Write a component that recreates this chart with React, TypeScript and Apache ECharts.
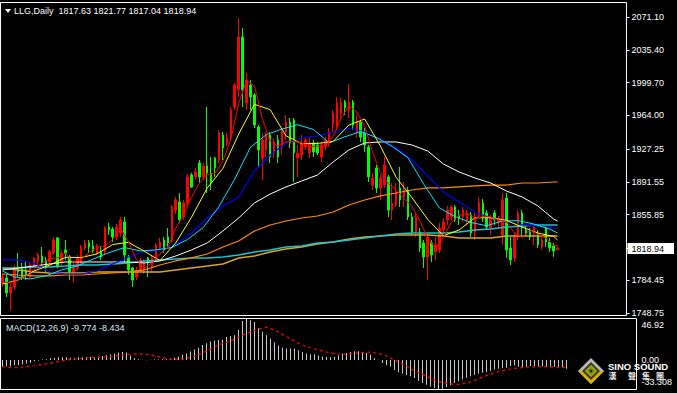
import React, { useEffect, useRef } from 'react';
import * as echarts from 'echarts';

// ---------- data ----------
const categories = Array.from({ length: 159 }, (_, i) => String(i + 1));

const opens = [
  1781.4, 1786.9, 1770.6, 1777.1, 1798.9, 1798.9, 1795.6, 1788.0, 1801.0, 1804.3,
  1810.9, 1806.5, 1804.3, 1814.1, 1830.4, 1804.3, 1817.4, 1809.8, 1792.3, 1797.8,
  1803.2, 1819.5, 1825.0, 1821.7, 1814.1, 1815.2, 1815.2, 1842.4, 1840.2, 1831.5,
  1835.9, 1847.9, 1809.8, 1797.8, 1788.0, 1795.6, 1795.6, 1808.7, 1798.9, 1808.7,
  1819.5, 1828.2, 1831.5, 1828.2, 1860.9, 1869.6, 1853.3, 1868.5, 1899.1, 1896.9,
  1912.1, 1896.9, 1908.8, 1901.2, 1917.6, 1915.4, 1942.6, 1933.9, 1940.4, 1973.1,
  1991.6, 2049.3, 1977.4, 1997.0, 1986.1, 1951.3, 1917.6, 1926.3, 1942.6, 1923.0,
  1937.2, 1929.6, 1945.9, 1956.7, 1958.9, 1917.6, 1920.8, 1929.6, 1923.0, 1933.9,
  1931.7, 1918.6, 1929.6, 1933.9, 1953.5, 1951.3, 1966.5, 1978.5, 1969.8, 1978.5,
  1945.9, 1956.7, 1945.9, 1929.6, 1888.1, 1906.7, 1884.9, 1888.1, 1896.9, 1860.9,
  1866.4, 1884.9, 1875.1, 1882.7, 1853.3, 1836.9, 1836.9, 1825.0, 1809.8, 1825.0,
  1815.2, 1817.4, 1839.1, 1850.0, 1853.3, 1864.2, 1855.5, 1853.3, 1850.0, 1855.5,
  1836.9, 1855.5, 1868.5, 1857.7, 1841.3, 1857.7, 1846.8, 1833.7, 1874.0, 1819.5,
  1808.7, 1831.5, 1857.7, 1839.1, 1836.9, 1835.9, 1833.7, 1820.6, 1841.3, 1826.1,
  1821.7, 1817.63,
];
const closes = [
  1788.0, 1770.6, 1777.1, 1797.8, 1793.4, 1788.0, 1790.2, 1801.0, 1808.7, 1811.9,
  1803.2, 1798.9, 1815.2, 1828.2, 1798.9, 1814.1, 1814.1, 1793.4, 1798.9, 1808.7,
  1820.6, 1825.0, 1820.6, 1816.3, 1820.6, 1809.8, 1841.3, 1839.1, 1831.5, 1842.4,
  1850.0, 1811.9, 1795.6, 1784.7, 1795.6, 1806.5, 1804.3, 1803.2, 1808.7, 1822.8,
  1826.1, 1817.4, 1825.0, 1864.2, 1871.8, 1850.0, 1868.5, 1896.9, 1886.0, 1902.3,
  1896.9, 1908.8, 1901.2, 1890.3, 1906.7, 1944.8, 1928.5, 1939.4, 1969.8, 1997.0,
  2049.3, 1991.6, 2002.5, 1984.0, 1953.5, 1926.3, 1937.2, 1942.6, 1918.6, 1935.0,
  1918.6, 1945.9, 1956.7, 1933.9, 1923.0, 1923.0, 1933.9, 1937.2, 1933.9, 1924.1,
  1923.0, 1931.7, 1937.2, 1945.9, 1966.5, 1977.4, 1977.4, 1972.0, 1978.5, 1953.5,
  1956.7, 1940.4, 1931.7, 1896.9, 1895.8, 1884.9, 1895.8, 1909.9, 1860.9, 1868.5,
  1880.5, 1871.8, 1882.7, 1853.3, 1836.9, 1853.3, 1819.5, 1809.8, 1831.5, 1811.9,
  1822.8, 1841.3, 1847.9, 1860.9, 1864.2, 1850.0, 1852.2, 1860.9, 1857.7, 1835.9,
  1853.3, 1868.5, 1852.2, 1842.4, 1852.2, 1850.0, 1852.2, 1871.8, 1817.4, 1806.5,
  1831.5, 1857.7, 1841.3, 1834.8, 1831.5, 1842.4, 1822.8, 1828.2, 1826.1, 1819.5,
  1816.3, 1818.94,
];
const lows = [
  1777.1, 1766.2, 1752.0, 1773.8, 1788.0, 1784.7, 1784.7, 1786.9, 1798.9, 1801.0,
  1801.0, 1792.3, 1802.1, 1811.9, 1797.8, 1801.0, 1806.5, 1784.7, 1781.4, 1795.6,
  1801.0, 1817.4, 1814.1, 1814.1, 1811.9, 1806.5, 1813.0, 1833.7, 1826.1, 1828.2,
  1831.5, 1804.3, 1790.2, 1777.1, 1784.7, 1793.4, 1791.2, 1788.0, 1792.3, 1806.5,
  1817.4, 1814.1, 1820.6, 1825.0, 1856.6, 1846.8, 1850.0, 1865.3, 1884.9, 1893.6,
  1890.3, 1893.6, 1879.4, 1882.7, 1896.9, 1912.1, 1915.4, 1930.6, 1937.2, 1969.8,
  1984.0, 1973.1, 1969.8, 1969.8, 1950.2, 1906.7, 1893.6, 1918.6, 1912.1, 1917.6,
  1912.1, 1920.8, 1937.2, 1928.5, 1891.4, 1896.9, 1915.4, 1926.3, 1917.6, 1918.6,
  1920.8, 1913.2, 1926.3, 1929.6, 1945.9, 1948.1, 1961.1, 1964.4, 1961.1, 1948.1,
  1939.4, 1935.0, 1924.1, 1891.4, 1882.7, 1879.4, 1871.8, 1884.9, 1853.3, 1850.0,
  1864.2, 1864.2, 1864.2, 1850.0, 1833.7, 1831.5, 1815.2, 1797.8, 1784.7, 1804.3,
  1806.5, 1814.1, 1835.9, 1844.6, 1850.0, 1847.9, 1844.6, 1847.9, 1844.6, 1831.5,
  1828.2, 1852.2, 1847.9, 1839.1, 1833.7, 1844.6, 1842.4, 1822.8, 1808.7, 1801.0,
  1804.3, 1828.2, 1833.7, 1832.6, 1828.2, 1822.8, 1819.5, 1817.4, 1820.6, 1815.2,
  1809.8, 1817.04,
];
const highs = [
  1792.3, 1790.2, 1780.4, 1801.0, 1814.1, 1803.2, 1804.3, 1804.3, 1809.8, 1814.1,
  1820.6, 1809.8, 1817.4, 1831.5, 1831.5, 1817.4, 1828.2, 1811.9, 1803.2, 1811.9,
  1822.8, 1828.2, 1828.2, 1828.2, 1823.9, 1820.6, 1843.5, 1846.8, 1842.4, 1845.7,
  1853.3, 1853.3, 1811.9, 1798.9, 1798.9, 1808.7, 1807.6, 1809.8, 1811.9, 1825.0,
  1830.4, 1831.5, 1841.3, 1866.4, 1875.1, 1879.4, 1871.8, 1900.1, 1901.2, 1906.7,
  1915.4, 1912.1, 1973.1, 1918.6, 1918.6, 1948.1, 1945.9, 1944.8, 1973.1, 1999.2,
  2070.0, 2059.1, 2010.1, 2002.5, 1988.3, 1953.5, 1944.8, 1945.9, 1945.9, 1939.4,
  1942.6, 1950.2, 1964.4, 1961.1, 1961.1, 1931.7, 1942.6, 1940.4, 1939.4, 1937.2,
  1935.0, 1935.0, 1940.4, 1950.2, 1969.8, 1984.0, 1982.9, 1980.7, 1998.1, 1980.7,
  1964.4, 1958.9, 1950.2, 1931.7, 1901.2, 1909.9, 1899.1, 1918.6, 1899.1, 1890.3,
  1890.3, 1907.8, 1891.4, 1886.0, 1857.7, 1857.7, 1841.3, 1828.2, 1834.8, 1828.2,
  1831.5, 1846.8, 1852.2, 1865.3, 1866.4, 1866.4, 1860.9, 1864.2, 1860.9, 1858.7,
  1857.7, 1875.1, 1872.9, 1860.9, 1855.5, 1860.9, 1854.4, 1879.4, 1879.4, 1831.5,
  1836.9, 1860.9, 1860.9, 1843.5, 1841.3, 1844.6, 1839.1, 1832.6, 1843.5, 1830.4,
  1825.0, 1821.77,
];

// moving-average lines at these candle indices
const maIdx = [0, 4, 8, 12, 16, 20, 24, 28, 32, 36, 40, 44, 48, 52, 56, 60, 64, 68, 72, 76,
  80, 84, 88, 92, 96, 100, 104, 108, 112, 116, 120, 124, 128, 132, 136, 140, 141];
const maYellow = [1780.3, 1784.7, 1794.5, 1800.8, 1809.4, 1809.1, 1813.2, 1823.3, 1825.7, 1816.0,
  1805.8, 1825.0, 1852.9, 1884.7, 1906.2, 1943.6, 1976.0, 1970.2, 1941.8, 1933.1,
  1933.4, 1935.6, 1953.4, 1960.0, 1930.6, 1896.5, 1874.5, 1850.8, 1832.8, 1839.2,
  1852.4, 1852.5, 1849.6, 1842.3, 1835.8, 1832.1, 1828.2];
const maBlue = [1806.5, 1806.5, 1803.2, 1793.4, 1791.2, 1791.2, 1794.5, 1802.1, 1809.7, 1815.2,
  1817.4, 1823.9, 1835.9, 1852.2, 1865.3, 1875.1, 1903.4, 1920.8, 1933.9, 1939.3,
  1941.5, 1945.9, 1950.2, 1945.9, 1937.2, 1928.4, 1915.4, 1898.0, 1880.5, 1869.6,
  1858.7, 1852.2, 1847.9, 1844.6, 1843.5, 1841.3, 1841.3];
const maWhite = [1795.6, 1797.8, 1799.9, 1802.1, 1804.3, 1804.3, 1804.3, 1804.3, 1804.3, 1803.2,
  1805.4, 1810.8, 1817.4, 1825.0, 1838.1, 1852.2, 1868.5, 1878.3, 1886.0, 1892.5,
  1899.0, 1913.2, 1926.3, 1933.9, 1935.0, 1935.0, 1931.7, 1925.2, 1911.0, 1902.3,
  1895.8, 1890.3, 1881.6, 1875.1, 1865.3, 1851.1, 1848.9];
const maOrange = [1791.2, 1790.1, 1789.1, 1789.1, 1790.1, 1790.1, 1791.2, 1792.3, 1793.4, 1795.6,
  1801.0, 1805.4, 1808.7, 1813.0, 1820.6, 1827.2, 1838.1, 1844.6, 1848.9, 1852.2,
  1854.4, 1858.7, 1866.4, 1871.8, 1876.2, 1879.4, 1882.7, 1884.9, 1884.9, 1886.0,
  1887.1, 1888.1, 1888.1, 1890.3, 1890.3, 1891.4, 1891.4];
const maTeal = [1797.8, 1797.8, 1798.9, 1798.9, 1799.9, 1801.0, 1801.0, 1802.1, 1803.2, 1805.4,
  1806.5, 1807.6, 1808.7, 1808.7, 1809.7, 1811.9, 1815.2, 1817.4, 1820.6, 1821.7,
  1825.0, 1826.1, 1828.3, 1830.4, 1832.6, 1834.8, 1835.9, 1835.9, 1835.9, 1837.0,
  1839.1, 1840.2, 1842.4, 1843.5, 1844.6, 1844.6, 1844.6];
const maGold = [1797.8, 1795.6, 1793.4, 1792.3, 1792.3, 1792.3, 1793.4, 1793.4, 1793.4, 1793.4,
  1793.4, 1795.6, 1797.8, 1799.9, 1802.1, 1808.7, 1810.8, 1815.2, 1818.5, 1820.6,
  1823.9, 1826.1, 1829.3, 1831.5, 1832.6, 1833.7, 1833.7, 1833.7, 1832.6, 1830.4,
  1830.4, 1830.4, 1832.6, 1832.6, 1832.6, 1832.6, 1832.6];

const cyanIdx = [0, 3, 7, 11, 15, 19, 23, 27, 31, 35, 39, 43, 47, 51, 55, 59, 63, 67, 71, 75,
  79, 83, 87, 91, 95, 99, 103, 107, 111, 115, 119, 123, 127, 131, 135, 139, 141];
const maCyan = [1794.5, 1788.0, 1785.8, 1789.1, 1795.6, 1800.0, 1807.4, 1814.4, 1820.0, 1816.3,
  1817.5, 1820.0, 1828.8, 1841.8, 1864.8, 1894.6, 1929.3, 1942.9, 1949.1, 1953.8,
  1948.5, 1934.1, 1940.7, 1946.3, 1939.9, 1930.2, 1917.8, 1889.1, 1863.0, 1853.7,
  1847.3, 1843.7, 1849.0, 1849.3, 1845.6, 1840.1, 1835.8];

const fastIdx = [0, 2, 4, 6, 8, 10, 12, 14, 16, 18, 20, 22, 24, 26, 28, 30, 32, 34, 36, 38,
  40, 42, 44, 46, 48, 50, 52, 54, 56, 58, 60, 62, 64, 66, 68, 70, 72, 74, 76, 78,
  80, 82, 84, 86, 88, 90, 92, 94, 96, 98, 100, 102, 104, 106, 108, 110, 112, 114, 116, 118,
  120, 122, 124, 126, 128, 130, 132, 134, 136, 138, 140, 141];
const maRed = [1782.5, 1781.4, 1785.3, 1789.3, 1796.2, 1803.0, 1807.6, 1808.9, 1814.1, 1803.9,
  1807.1, 1814.8, 1820.6, 1821.7, 1828.5, 1840.9, 1826.1, 1807.3, 1797.3, 1803.6,
  1813.0, 1820.0, 1840.9, 1855.9, 1874.6, 1890.1, 1899.0, 1900.8, 1914.3, 1937.8,
  1976.8, 2002.1, 1996.2, 1960.7, 1935.6, 1930.4, 1935.0, 1935.6, 1934.1, 1930.2,
  1930.4, 1930.0, 1940.9, 1960.9, 1974.4, 1967.6, 1952.2, 1924.3, 1901.0, 1889.5,
  1883.1, 1872.9, 1865.1, 1849.2, 1830.2, 1819.1, 1831.1, 1847.4, 1855.0, 1857.0,
  1852.0, 1853.5, 1853.7, 1849.8, 1848.7, 1835.9, 1830.9, 1839.4, 1834.6, 1830.2,
  1822.6, 1821.8];

const macdHist = [
  -7.5, -7, -7, -6, -5.5, -5, -4, -3, -1.5, -0.5,
  0.5, 1, 2, 2.5, 3, 3, 3, 2.5, 2.5, 3,
  3, 3.5, 3.5, 3.5, 4, 4.5, 5.5, 6.5, 7.5, 8.5,
  9, 8.5, 5, 2, 1, 0.3, -0.3, 0.3, 0.5, 0.5,
  0.8, 1, 1.2, 2.5, 4, 6, 7.5, 9.5, 12, 14,
  17, 19, 21, 22, 22.5, 23, 26, 27, 28, 34,
  44, 46.92, 45, 43, 36, 32, 28, 24, 20, 16.5,
  14, 13, 13, 13, 11, 9, 7.5, 6.5, 6.5, 5,
  4, 3.5, 3, 3.5, 5, 7, 8, 9, 10, 9.8,
  9, 7.8, 5.9, 2, 0.3, -3.5, -5.9, -7.4, -11.3, -13.7,
  -15.2, -16.8, -18.3, -20.3, -23.5, -26, -28, -30, -31.5, -33.308,
  -32.5, -30.5, -28.5, -26, -24, -22, -20, -18.3, -16.5, -15.5,
  -14.5, -13.5, -12, -10.8, -10, -9.2, -8.7, -6.8, -6, -7.5,
  -8.6, -7.5, -6.8, -7.4, -7.8, -7.4, -7.8, -8.2, -7.8, -8.4,
  -8.8, -9.774,
];
const macdSignal = [
  -7.5, -8.5, -8.5, -7.5, -6.5, -5, -3.5, -1.5, 0, 1.2,
  2, 2.5, 3, 3.5, 4.5, 5.5, 6.5, 7, 6.5, 5,
  2.5, 1, 1, 2, 4, 8, 12.5, 17, 20, 23.5,
  28, 32, 35, 37, 34, 29, 24, 19, 15, 12.5,
  10, 8, 6.5, 6.5, 7.5, 8.5, 9, 7.5, 4.5, 0,
  -4.5, -9.5, -14, -18.5, -22.5, -25.5, -27, -27.5, -26, -23,
  -19.5, -16, -13, -11, -9.5, -8.5, -7.8, -7.5, -7.6, -7.9,
  -8.3, -8.434,
];

const priceTicks = [2071.10, 2035.40, 1999.70, 1964.00, 1927.25, 1891.55, 1855.85, 1818.94, 1784.45, 1748.75];
const currentPrice = 1818.94;
const macdTicks = [46.92, 0, -33.308];
const macdTickLabels = ['46.92', '0.00', '-33.308'];
const headerText = 'LLG,Daily  1817.63 1821.77 1817.04 1818.94';
const macdText = 'MACD(12,26,9) -9.774 -8.434';
const logoText = 'SINO SOUND';
const logoChars = ['漢', '聲', '集', '團'];

const FONT = '"Liberation Sans", Arial, sans-serif';

export default function App() {
  const ref = useRef<HTMLDivElement>(null);

  useEffect(() => {
    const chart = echarts.init(ref.current!, null, { renderer: 'svg' });
    const candleData = opens.map((o, i) => [o, closes[i], lows[i], highs[i]]);
    const pairs = (idx: number[], vals: number[]) => idx.map((k, j) => [k, vals[j]]);

    const lines = [
      { idx: maIdx, vals: maGold, color: '#daa520', width: 1.5 },
      { idx: maIdx, vals: maTeal, color: '#20c0d0', width: 1.5 },
      { idx: maIdx, vals: maOrange, color: '#ff8c00', width: 1.2 },
      { idx: maIdx, vals: maWhite, color: '#ffffff', width: 1 },
      { idx: maIdx, vals: maBlue, color: '#0000ff', width: 1.2 },
      { idx: cyanIdx, vals: maCyan, color: '#00e8ff', width: 1 },
      { idx: maIdx, vals: maYellow, color: '#ffff00', width: 1 },
      { idx: fastIdx, vals: maRed, color: '#ff0000', width: 1 },
    ];

    const logoGraphics: any[] = [
      { type: 'polygon', z: 100, shape: { points: [[591, 358], [604, 371], [591, 384], [578, 371]] }, style: { fill: '#b8b8b8' } },
      { type: 'polygon', z: 101, shape: { points: [[578, 371], [604, 371], [591, 384]] }, style: { fill: '#d8b400' } },
      { type: 'polygon', z: 102, shape: { points: [[591, 362], [600, 371], [591, 380], [582, 371]] }, style: { fill: '#3a3a28' } },
      { type: 'polygon', z: 103, shape: { points: [[591, 365.5], [596.5, 371], [591, 376.5], [585.5, 371]] }, style: { fill: '#7a9a10', stroke: '#d8c000', lineWidth: 1 } },
      { type: 'circle', z: 104, shape: { cx: 591, cy: 371, r: 1.5 }, style: { fill: '#1c2a00' } },
      { type: 'text', z: 105, x: 608, y: 366, style: { text: logoText, fill: '#ffffff', fontSize: 9.5, fontWeight: 'bold', fontFamily: 'Arial, "Liberation Sans", sans-serif', verticalAlign: 'middle' } },
      ...logoChars.map((ch, k) => ({
        type: 'text', z: 105, x: [612.5, 632, 646, 660][k], y: 375.5,
        style: { text: ch, fill: '#e8e8e8', fontSize: 8, fontWeight: 'bold', fontFamily: '"Noto Sans CJK TC", sans-serif', align: 'center', verticalAlign: 'middle' },
      })),
    ];

    const option: any = {
      animation: false,
      backgroundColor: '#000000',
      grid: [
        { left: 0.5, top: 2.5, width: 636, height: 313, show: true, borderColor: '#ffffff', borderWidth: 1, backgroundColor: 'transparent' },
        { left: 0.5, top: 318.5, width: 636, height: 71, show: true, borderColor: '#ffffff', borderWidth: 1, backgroundColor: 'transparent' },
      ],
      xAxis: [
        { type: 'category', gridIndex: 0, data: categories, boundaryGap: true, show: false },
        { type: 'category', gridIndex: 1, data: categories, boundaryGap: true, show: false },
      ],
      yAxis: [
        {
          type: 'value', gridIndex: 0, position: 'right', min: 1746.0, max: 2086.9, scale: true,
          splitLine: { show: false },
          axisLine: { show: false },
          axisTick: { show: true, length: 3, customValues: priceTicks, lineStyle: { color: '#ffffff' } },
          axisLabel: {
            customValues: priceTicks, margin: 1, color: '#ffffff', fontSize: 9, fontFamily: FONT,
            formatter: (v: number) => (Math.abs(v - currentPrice) < 1e-6 ? '{c|' + v.toFixed(2) + '}' : '{n|' + v.toFixed(2) + '}'),
            rich: {
              n: { color: '#ffffff', fontSize: 9, fontFamily: FONT, padding: [0, 0, 0, 4] },
              c: { color: '#000000', backgroundColor: '#ffffff', fontSize: 9, fontFamily: FONT, padding: [1, 10, 1, 4] },
            },
          },
        },
        {
          type: 'value', gridIndex: 1, position: 'right', min: -33.308, max: 46.92,
          splitLine: { show: false },
          axisLine: { show: false },
          axisTick: { show: false },
          axisLabel: {
            customValues: macdTicks, margin: 1, color: '#ffffff', fontSize: 9, fontFamily: FONT,
            formatter: (v: number) => {
              const k = macdTicks.findIndex((t) => Math.abs(t - v) < 1e-6);
              const style = k === 0 ? 't' : k === 2 ? 'b' : 'm';
              return '{' + style + '|' + (k >= 0 ? macdTickLabels[k] : v) + '}';
            },
            rich: {
              t: { color: '#ffffff', fontSize: 9, fontFamily: FONT, padding: [12, 0, 0, 4] },
              m: { color: '#ffffff', fontSize: 9, fontFamily: FONT, padding: [0, 0, 0, 4] },
              b: { color: '#ffffff', fontSize: 9, fontFamily: FONT, padding: [0, 0, 15, 4] },
            },
          },
        },
      ],
      series: [
        {
          type: 'candlestick', xAxisIndex: 0, yAxisIndex: 0, data: candleData, barWidth: 2, silent: true,
          itemStyle: { color: '#ff0000', color0: '#00ff00', borderColor: '#ff0000', borderColor0: '#00ff00', borderWidth: 1 },
        },
        ...lines.map((l) => ({
          type: 'line', xAxisIndex: 0, yAxisIndex: 0, data: pairs(l.idx, l.vals), symbol: 'none', silent: true,
          smooth: false, lineStyle: { color: l.color, width: l.width },
        })),
        {
          type: 'bar', xAxisIndex: 1, yAxisIndex: 1, data: macdHist, barWidth: 1, silent: true,
          itemStyle: { color: '#c8c8c8' },
        },
        {
          type: 'line', xAxisIndex: 1, yAxisIndex: 1, data: pairs(fastIdx, macdSignal), symbol: 'none', silent: true,
          lineStyle: { color: '#ff0000', width: 1.2, type: [3, 3] },
        },
      ],
      graphic: [
        { type: 'polygon', z: 100, shape: { points: [[5, 9], [11, 9], [8, 13]] }, style: { fill: '#ffffff' } },
        { type: 'text', z: 100, x: 14, y: 11, style: { text: headerText, fill: '#ffffff', fontSize: 9, fontFamily: FONT, verticalAlign: 'middle' } },
        { type: 'text', z: 100, x: 6, y: 328, style: { text: macdText, fill: '#dce6f0', fontSize: 9, fontFamily: FONT, verticalAlign: 'middle' } },
        ...logoGraphics,
      ],
    };

    chart.setOption(option);
    return () => chart.dispose();
  }, []);

  return (
    <div
      ref={ref}
      style={{ position: 'fixed', left: 0, top: 0, width: 677, height: 393, background: '#000' }}
    />
  );
}
